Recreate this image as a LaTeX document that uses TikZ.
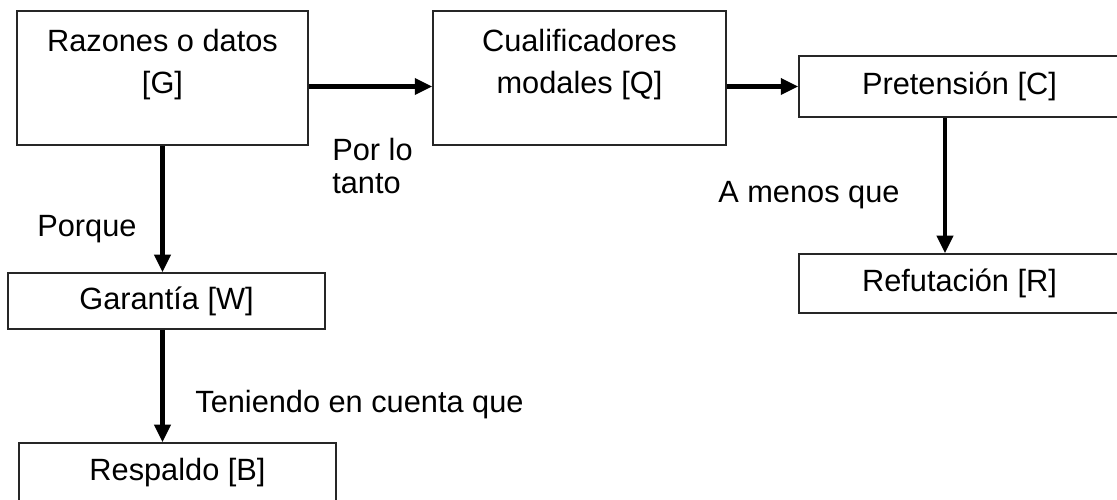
\documentclass[tikz,border=0pt]{standalone}
\usepackage{fontspec}
\setmainfont{Liberation Sans}
\usetikzlibrary{arrows.meta}
\begin{document}
\begin{tikzpicture}[x=0.02cm, y=-0.02cm,
  caja/.style={draw=black!85, line width=0.8pt, align=center, inner sep=0pt, font=\fontsize{17.5}{24}\selectfont},
  flecha/.style={line width=2.5pt, -{Triangle[length=10pt,width=9pt]}},
  etiqueta/.style={inner sep=0pt, align=left, font=\fontsize{17.5}{19.3}\selectfont}]
\useasboundingbox (0,0) rectangle (1117,500);
% cajas
\node[caja, minimum width=5.82cm, minimum height=2.68cm] (razones) at (162.5,78) {Razones o datos\\{[G]}\\[-5.5pt]\mbox{}};
\node[caja, minimum width=5.86cm, minimum height=2.68cm] (cualif) at (579.5,78) {Cualificadores\\modales [Q]\\[-5.5pt]\mbox{}};
\node[caja, minimum width=6.42cm, minimum height=1.22cm] (pretension) at (959.5,86.5) {Pretensión [C]};
\node[caja, minimum width=6.42cm, minimum height=1.18cm] (refutacion) at (959.5,283.5) {Refutación [R]};
\node[caja, minimum width=6.34cm, minimum height=1.12cm] (garantia) at (166.5,301) {Garantía [W]};
\node[caja, minimum width=6.34cm, minimum height=1.2cm] (respaldo) at (177.5,473) {Respaldo [B]};
% flechas
\draw[flecha] (razones.east |- pretension.west) -- (cualif.west |- pretension.west);
\draw[flecha] (cualif.east |- pretension.west) -- (pretension.west);
\draw[flecha] ([xshift=-0.29cm]pretension.south) -- ([xshift=-0.29cm]refutacion.north);
\draw[flecha] (razones.south) -- (razones.south |- garantia.north);
\draw[flecha] (garantia.south -| razones.south) -- (respaldo.north -| razones.south);
% etiquetas
\node[etiqueta, anchor=west] (porlotanto) at (332,166) {Por lo\\tanto};
\node[etiqueta, anchor=west] (porque) at (37,229) {Porque};
\node[etiqueta, anchor=west] (amenos) at (718,195) {A menos que};
\node[etiqueta, anchor=west] (teniendo) at (195,405) {Teniendo en cuenta que};
\end{tikzpicture}
\end{document}
